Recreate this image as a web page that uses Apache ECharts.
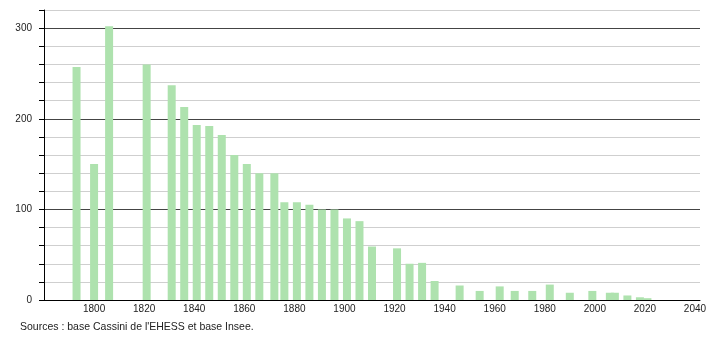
<!DOCTYPE html>
<html>
<head>
<meta charset="utf-8">
<script src="https://cdn.jsdelivr.net/npm/echarts@6/dist/echarts.min.js"></script>
<style>
html,body{margin:0;padding:0;background:#fff;}
#chart{width:710px;height:340px;}
</style>
</head>
<body>
<div id="chart"></div>
<script>
const years = [1793,1800,1806,1821,1831,1836,1841,1846,1851,1856,1861,1866,1872,1876,1881,1886,1891,1896,1901,1906,1911,1921,1926,1931,1936,1946,1954,1962,1968,1975,1982,1990,1999,2006,2008,2013,2018,2021];
const population = [257,150,302,260,237,213,193,192,182,160,150,140,140,108,108,105,100,100,90,87,59,57,40,41,21,16,10,15,10,10,17,8,10,8,8,5,3,2];
const xTickLabels = [1800,1820,1840,1860,1880,1900,1920,1940,1960,1980,2000,2020,2040];
const yTickLabels = [0,100,200,300];
const sourceText = "Sources : base Cassini de l'EHESS et base Insee.";

const data = years.map((y, i) => [y, population[i]]);
const chart = echarts.init(document.getElementById('chart'), null, {renderer: 'canvas'});
chart.setOption({
  animation: false,
  backgroundColor: '#ffffff',
  textStyle: {fontFamily: 'Liberation Sans, Arial, sans-serif'},
  grid: {left: 44, right: 10, top: 10, bottom: 40, containLabel: false},
  xAxis: {
    type: 'value', min: 1780, max: 2042,
    axisLine: {show: true, lineStyle: {color: '#000', width: 1}},
    axisTick: {show: false},
    splitLine: {show: false},
    axisLabel: {customValues: xTickLabels, color: '#222', fontSize: 10, margin: 4,
      fontFamily: 'Liberation Sans, Arial, sans-serif', formatter: v => String(v)}
  },
  yAxis: {
    type: 'value', min: 0, max: 320, interval: 20,
    axisLine: {show: true, lineStyle: {color: '#000', width: 1}},
    axisTick: {show: true, length: 5, lineStyle: {color: '#000'}},
    splitLine: {show: true, lineStyle: {color: ['#444','#cfcfcf','#cfcfcf','#cfcfcf','#cfcfcf'], width: 1}},
    axisLabel: {
      color: '#222', fontSize: 10, margin: 12, fontFamily: 'Liberation Sans, Arial, sans-serif',
      formatter: v => yTickLabels.includes(v) ? String(v) : ''
    }
  },
  series: [{
    type: 'bar', data: data, barWidth: 8,
    itemStyle: {color: '#aee2ae'},
    z: 1
  }],
  graphic: [{
    type: 'text', left: 20, top: 322,
    style: {text: sourceText, fill: '#222', font: '10.5px Liberation Sans, Arial, sans-serif'}
  }]
});
</script>
</body>
</html>
